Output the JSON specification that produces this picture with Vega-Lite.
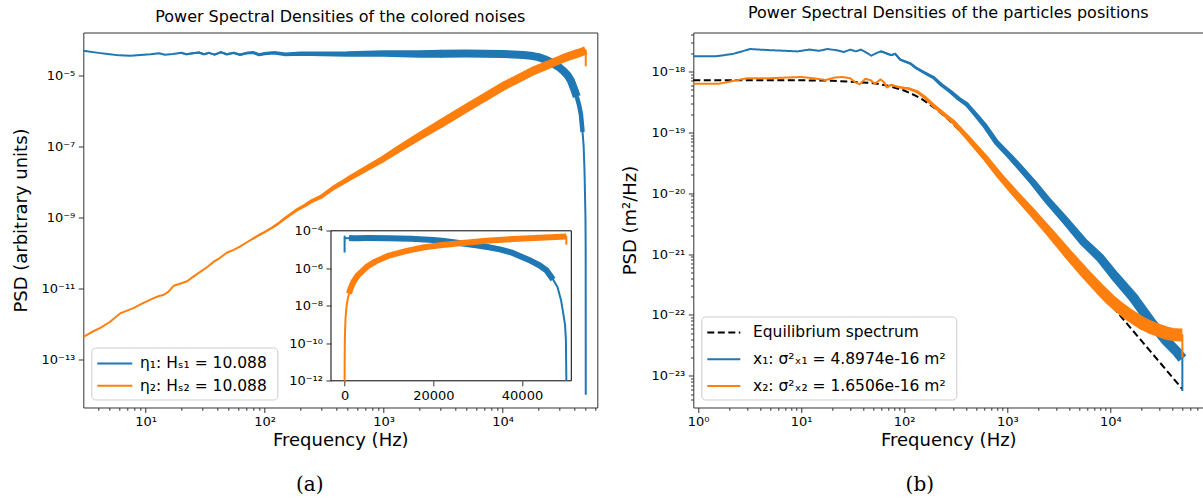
{
  "$schema": "https://vega.github.io/schema/vega-lite/v6.json",
  "background": "white",
  "padding": {"left": 12.3, "top": 4.5, "right": 0, "bottom": 2},
  "bounds": "flush",
  "spacing": 96,
  "resolve": {"scale": {"color": "independent", "strokeDash": "independent", "size": "independent"}, "legend": {"color": "independent", "strokeDash": "independent", "size": "independent"}},
  "datasets": {
    "L": [
      {"s":"n1","f":0,"y":6.92e-6},{"s":"n1","f":3,"y":4.9e-5},{"s":"n1","f":4,"y":4.27e-5},{"s":"n1","f":5,"y":3.89e-5},{"s":"n1","f":6,"y":3.63e-5},{"s":"n1","f":7.5,"y":3.55e-5},{"s":"n1","f":9,"y":3.72e-5},{"s":"n1","f":11,"y":3.89e-5},{"s":"n1","f":13,"y":4.17e-5},{"s":"n1","f":14.5,"y":3.8e-5},{"s":"n1","f":17,"y":3.98e-5},{"s":"n1","f":20,"y":4.27e-5},{"s":"n1","f":22,"y":3.89e-5},{"s":"n1","f":25,"y":4.17e-5},{"s":"n1","f":28,"y":4.37e-5},{"s":"n1","f":31,"y":3.89e-5},{"s":"n1","f":34,"y":4.27e-5},{"s":"n1","f":38,"y":3.8e-5},{"s":"n1","f":43,"y":4.47e-5},{"s":"n1","f":48,"y":3.89e-5},{"s":"n1","f":55,"y":4.27e-5},{"s":"n1","f":62,"y":3.8e-5},{"s":"n1","f":70,"y":4.17e-5},{"s":"n1","f":80,"y":4.37e-5},{"s":"n1","f":90,"y":3.8e-5},{"s":"n1","f":100,"y":4.07e-5},{"s":"n1","f":120,"y":4.27e-5},{"s":"n1","f":150,"y":3.89e-5},{"s":"n1","f":200,"y":4.07e-5},{"s":"n1","f":300,"y":3.98e-5},{"s":"n1","f":500,"y":3.98e-5},{"s":"n1","f":1000,"y":4.07e-5},{"s":"n1","f":2000,"y":3.98e-5},{"s":"n1","f":3000,"y":4.02e-5},{"s":"n1","f":5000,"y":4.07e-5},{"s":"n1","f":10000,"y":3.98e-5},{"s":"n1","f":15000,"y":3.72e-5},{"s":"n1","f":18000,"y":3.47e-5},{"s":"n1","f":20000,"y":3.24e-5},{"s":"n1","f":22500,"y":2.82e-5},{"s":"n1","f":25000,"y":2.4e-5},{"s":"n1","f":27500,"y":2.0e-5},{"s":"n1","f":30000,"y":1.66e-5},{"s":"n1","f":32500,"y":1.32e-5},{"s":"n1","f":35000,"y":1.02e-5},{"s":"n1","f":37500,"y":7.08e-6},{"s":"n1","f":40000,"y":3.98e-6},{"s":"n1","f":42000,"y":2.51e-6},{"s":"n1","f":44000,"y":1.41e-6},{"s":"n1","f":45500,"y":7.94e-7},{"s":"n1","f":47000,"y":2.51e-7},{"s":"n1","f":48000,"y":1.0e-7},{"s":"n1","f":48800,"y":2.0e-8},{"s":"n1","f":49300,"y":3.98e-9},{"s":"n1","f":49700,"y":1.0e-9},{"s":"n1","f":49900,"y":1.58e-10},{"s":"n1","f":50000,"y":1.0e-14},
      {"s":"n2","f":0,"y":1e-12},{"s":"n2","f":3,"y":4.27e-13},{"s":"n2","f":3.5,"y":5.75e-13},{"s":"n2","f":4.2,"y":7.76e-13},{"s":"n2","f":5,"y":1.12e-12},{"s":"n2","f":6.1,"y":1.95e-12},{"s":"n2","f":7,"y":2.34e-12},{"s":"n2","f":7.9,"y":2.75e-12},{"s":"n2","f":9.5,"y":3.8e-12},{"s":"n2","f":11.7,"y":5.25e-12},{"s":"n2","f":13,"y":6.03e-12},{"s":"n2","f":14.1,"y":6.46e-12},{"s":"n2","f":15.5,"y":7.94e-12},{"s":"n2","f":17.2,"y":1.17e-11},{"s":"n2","f":20,"y":1.38e-11},{"s":"n2","f":22.3,"y":1.58e-11},{"s":"n2","f":25,"y":2.09e-11},{"s":"n2","f":28.8,"y":2.88e-11},{"s":"n2","f":33,"y":3.98e-11},{"s":"n2","f":37.5,"y":5.62e-11},{"s":"n2","f":42,"y":7.08e-11},{"s":"n2","f":48,"y":1.0e-10},{"s":"n2","f":55,"y":1.2e-10},{"s":"n2","f":62,"y":1.48e-10},{"s":"n2","f":70,"y":1.91e-10},{"s":"n2","f":80,"y":2.51e-10},{"s":"n2","f":90,"y":3.16e-10},{"s":"n2","f":100,"y":3.8e-10},{"s":"n2","f":115,"y":5.01e-10},{"s":"n2","f":130,"y":6.61e-10},{"s":"n2","f":150,"y":9.55e-10},{"s":"n2","f":185,"y":1.58e-9},{"s":"n2","f":220,"y":2.19e-9},{"s":"n2","f":250,"y":2.88e-9},{"s":"n2","f":300,"y":3.8e-9},{"s":"n2","f":380,"y":6.76e-9},{"s":"n2","f":500,"y":1.17e-8},{"s":"n2","f":700,"y":2.24e-8},{"s":"n2","f":1000,"y":4.47e-8},{"s":"n2","f":1350,"y":8.51e-8},{"s":"n2","f":2000,"y":1.91e-7},{"s":"n2","f":3000,"y":4.27e-7},{"s":"n2","f":5000,"y":1.2e-6},{"s":"n2","f":7000,"y":2.34e-6},{"s":"n2","f":10000,"y":4.79e-6},{"s":"n2","f":14000,"y":8.51e-6},{"s":"n2","f":18000,"y":1.32e-5},{"s":"n2","f":22000,"y":1.74e-5},{"s":"n2","f":26000,"y":2.19e-5},{"s":"n2","f":32000,"y":2.95e-5},{"s":"n2","f":38000,"y":3.63e-5},{"s":"n2","f":44000,"y":4.27e-5},{"s":"n2","f":49990,"y":5.01e-5},{"s":"n2","f":50000,"y":1.78e-5}
    ],
    "R": [
      {"s":"eq","f":0.9,"y":7.2e-19},{"s":"eq","f":10,"y":7.17e-19},{"s":"eq","f":20,"y":7.07e-19},{"s":"eq","f":50,"y":6.44e-19},{"s":"eq","f":70,"y":5.84e-19},{"s":"eq","f":100,"y":4.88e-19},{"s":"eq","f":130,"y":3.99e-19},{"s":"eq","f":150,"y":3.48e-19},{"s":"eq","f":200,"y":2.48e-19},{"s":"eq","f":250,"y":1.81e-19},{"s":"eq","f":300,"y":1.36e-19},{"s":"eq","f":400,"y":8.36e-20},{"s":"eq","f":500,"y":5.59e-20},{"s":"eq","f":700,"y":2.96e-20},{"s":"eq","f":1000,"y":1.48e-20},{"s":"eq","f":2000,"y":3.77e-21},{"s":"eq","f":5000,"y":6.05e-22},{"s":"eq","f":10000,"y":1.51e-22},{"s":"eq","f":20000,"y":3.78e-23},{"s":"eq","f":50000,"y":6.06e-24},
      {"s":"x1","f":0.9,"y":1.78e-18},{"s":"x1","f":1.5,"y":1.78e-18},{"s":"x1","f":2.2,"y":1.95e-18},{"s":"x1","f":3.2,"y":2.34e-18},{"s":"x1","f":5,"y":2.24e-18},{"s":"x1","f":7,"y":2.19e-18},{"s":"x1","f":9.2,"y":2.14e-18},{"s":"x1","f":12,"y":2.29e-18},{"s":"x1","f":15,"y":2.19e-18},{"s":"x1","f":18,"y":2.34e-18},{"s":"x1","f":22,"y":2.24e-18},{"s":"x1","f":26,"y":2.09e-18},{"s":"x1","f":30,"y":2.29e-18},{"s":"x1","f":34,"y":2.14e-18},{"s":"x1","f":38,"y":2.29e-18},{"s":"x1","f":43,"y":2.04e-18},{"s":"x1","f":48,"y":1.82e-18},{"s":"x1","f":55,"y":2.04e-18},{"s":"x1","f":60,"y":2.14e-18},{"s":"x1","f":69,"y":1.95e-18},{"s":"x1","f":75,"y":1.86e-18},{"s":"x1","f":82,"y":1.95e-18},{"s":"x1","f":91,"y":1.58e-18},{"s":"x1","f":100,"y":1.48e-18},{"s":"x1","f":115,"y":1.35e-18},{"s":"x1","f":130,"y":1.15e-18},{"s":"x1","f":150,"y":1.0e-18},{"s":"x1","f":170,"y":8.91e-19},{"s":"x1","f":193,"y":7.94e-19},{"s":"x1","f":230,"y":6.03e-19},{"s":"x1","f":280,"y":4.68e-19},{"s":"x1","f":340,"y":3.55e-19},{"s":"x1","f":405,"y":2.88e-19},{"s":"x1","f":500,"y":1.91e-19},{"s":"x1","f":600,"y":1.32e-19},{"s":"x1","f":790,"y":6.76e-20},{"s":"x1","f":1070,"y":3.98e-20},{"s":"x1","f":1400,"y":2.4e-20},{"s":"x1","f":1780,"y":1.51e-20},{"s":"x1","f":2500,"y":7.41e-21},{"s":"x1","f":3800,"y":3.31e-21},{"s":"x1","f":5500,"y":1.58e-21},{"s":"x1","f":7950,"y":8.71e-22},{"s":"x1","f":11000,"y":4.37e-22},{"s":"x1","f":16800,"y":1.91e-22},{"s":"x1","f":24400,"y":7.94e-23},{"s":"x1","f":35000,"y":3.72e-23},{"s":"x1","f":45000,"y":2.4e-23},{"s":"x1","f":49990,"y":1.91e-23},{"s":"x1","f":50000,"y":5.62e-24},
      {"s":"x2","f":0.9,"y":6.31e-19},{"s":"x2","f":1.6,"y":6.31e-19},{"s":"x2","f":3,"y":7.76e-19},{"s":"x2","f":5,"y":7.76e-19},{"s":"x2","f":7,"y":7.94e-19},{"s":"x2","f":10,"y":8.13e-19},{"s":"x2","f":13,"y":7.76e-19},{"s":"x2","f":17.3,"y":7.24e-19},{"s":"x2","f":21,"y":7.94e-19},{"s":"x2","f":25,"y":8.13e-19},{"s":"x2","f":30,"y":7.76e-19},{"s":"x2","f":33,"y":6.76e-19},{"s":"x2","f":37,"y":6.17e-19},{"s":"x2","f":42,"y":7.59e-19},{"s":"x2","f":47,"y":7.24e-19},{"s":"x2","f":52,"y":6.31e-19},{"s":"x2","f":59,"y":7.41e-19},{"s":"x2","f":64,"y":6.61e-19},{"s":"x2","f":68,"y":5.5e-19},{"s":"x2","f":75,"y":6.03e-19},{"s":"x2","f":82,"y":5.75e-19},{"s":"x2","f":91,"y":5.5e-19},{"s":"x2","f":110,"y":5.25e-19},{"s":"x2","f":133,"y":4.68e-19},{"s":"x2","f":160,"y":3.72e-19},{"s":"x2","f":193,"y":2.75e-19},{"s":"x2","f":250,"y":1.91e-19},{"s":"x2","f":300,"y":1.48e-19},{"s":"x2","f":405,"y":8.51e-20},{"s":"x2","f":600,"y":3.98e-20},{"s":"x2","f":850,"y":1.91e-20},{"s":"x2","f":1200,"y":9.77e-21},{"s":"x2","f":1780,"y":4.68e-21},{"s":"x2","f":2600,"y":2.24e-21},{"s":"x2","f":3800,"y":1.05e-21},{"s":"x2","f":5500,"y":5.13e-22},{"s":"x2","f":7950,"y":2.63e-22},{"s":"x2","f":10000,"y":1.78e-22},{"s":"x2","f":12500,"y":1.29e-22},{"s":"x2","f":15000,"y":1.02e-22},{"s":"x2","f":18000,"y":8.32e-23},{"s":"x2","f":21000,"y":7.08e-23},{"s":"x2","f":24400,"y":6.31e-23},{"s":"x2","f":30000,"y":5.5e-23},{"s":"x2","f":35000,"y":5.01e-23},{"s":"x2","f":40000,"y":4.79e-23},{"s":"x2","f":47800,"y":4.68e-23},{"s":"x2","f":49990,"y":4.68e-23},{"s":"x2","f":50000,"y":2.0e-23}
    ],
    "Box": [{"x0": -3066, "x1": 51116, "y0": 1e-12, "y1": 1e-4}]
  },
  "hconcat": [
    {
      "width": 514,
      "height": 375,
      "title": {"text": "Power Spectral Densities of the colored noises"},
      "resolve": {"scale": {"x": "independent", "y": "independent"}, "axis": {"x": "independent", "y": "independent"}},
      "layer": [
        {
          "data": {"name": "L"},
          "transform": [{"filter": "datum.f > 0"}],
          "resolve": {"scale": {"size": "independent"}, "legend": {"size": "independent"}},
          "encoding": {
            "x": {"field": "f", "type": "quantitative",
              "scale": {"type": "log", "domain": [2.996, 62500], "nice": false},
              "axis": {"orient": "bottom", "title": "Frequency (Hz)", "titleY": 38, "titleBaseline": "alphabetic",
                "values": [4,5,6,7,8,9,10,20,30,40,50,60,70,80,90,100,200,300,400,500,600,700,800,900,1000,2000,3000,4000,5000,6000,7000,8000,9000,10000,20000,30000,40000,50000,60000],
                "tickSize": {"expr": "abs(log(datum.value)/LN10 - round(log(datum.value)/LN10)) < 0.001 ? 5 : 2.8"},
                "labelExpr": "abs(log(datum.value)/LN10 - round(log(datum.value)/LN10)) < 0.001 ? '10' + replace(replace(replace(replace(replace(replace(replace(replace(replace(replace(replace('' + round(log(datum.value)/LN10), '-', '⁻'), regexp('0','g'), '⁰'), regexp('1','g'), '¹'), regexp('2','g'), '²'), regexp('3','g'), '³'), regexp('4','g'), '⁴'), regexp('5','g'), '⁵'), regexp('6','g'), '⁶'), regexp('7','g'), '⁷'), regexp('8','g'), '⁸'), regexp('9','g'), '⁹') : ''"}},
            "y": {"field": "y", "type": "quantitative",
              "scale": {"type": "log", "domain": [4.37e-15, 1.6e-4], "nice": false},
              "axis": {"orient": "left", "title": "PSD (arbitrary units)", "titleX": -56.3, "titleBaseline": "alphabetic",
                "values": [1e-5, 1e-7, 1e-9, 1e-11, 1e-13], "tickSize": 5,
                "labelExpr": "'10' + replace(replace(replace(replace(replace(replace(replace(replace(replace(replace(replace('' + round(log(datum.value)/LN10), '-', '⁻'), regexp('0','g'), '⁰'), regexp('1','g'), '¹'), regexp('2','g'), '²'), regexp('3','g'), '³'), regexp('4','g'), '⁴'), regexp('5','g'), '⁵'), regexp('6','g'), '⁶'), regexp('7','g'), '⁷'), regexp('8','g'), '⁸'), regexp('9','g'), '⁹')"}}
          },
          "layer": [
            {"transform": [{"filter": "datum.s == 'n1'"}], "mark": {"type": "line", "strokeWidth": 2, "strokeJoin": "round"},
              "encoding": {"color": {"field": "s", "type": "nominal", "scale": {"domain": ["n1", "n2"], "range": ["#1f77b4", "#ff7f0e"]},
                "legend": {"title": null, "symbolType": "M-1,0H2.5", "labelOffset": 21.7, "rowPadding": 2.3,
                  "labelExpr": "datum.label == 'n1' ? 'η₁: Hₛ₁ =  10.088' : 'η₂: Hₛ₂ =  10.088'"}}}},
            {"transform": [{"filter": "datum.s == 'n1' && datum.f >= 20 && datum.f <= 3000"}], "mark": {"type": "trail", "color": "#1f77b4"},
              "encoding": {"size": {"field": "f", "type": "quantitative", "scale": {"type": "log", "domain": [40, 3000], "range": [2, 8], "clamp": true}, "legend": null}}},
            {"transform": [{"filter": "datum.s == 'n1' && datum.f >= 3000 && datum.f <= 42000"}], "mark": {"type": "line", "strokeWidth": 8, "color": "#1f77b4", "strokeJoin": "round", "strokeCap": "butt"}, "encoding": {}},
            {"transform": [{"filter": "datum.s == 'n1' && datum.f >= 42000 && datum.f <= 47000"}], "mark": {"type": "line", "strokeWidth": 4.5, "color": "#1f77b4", "strokeJoin": "round", "strokeCap": "butt"}, "encoding": {}},
            {"transform": [{"filter": "datum.s == 'n2'"}], "mark": {"type": "line", "strokeWidth": 2, "strokeJoin": "round"},
              "encoding": {"color": {"field": "s", "type": "nominal", "scale": {"domain": ["n1", "n2"], "range": ["#1f77b4", "#ff7f0e"]},
                "legend": {"title": null, "symbolType": "M-1,0H2.5", "labelOffset": 21.7, "rowPadding": 2.3,
                  "labelExpr": "datum.label == 'n1' ? 'η₁: Hₛ₁ =  10.088' : 'η₂: Hₛ₂ =  10.088'"}}}},
            {"transform": [{"filter": "datum.s == 'n2' && datum.f >= 80 && datum.f <= 3000"}], "mark": {"type": "trail", "color": "#ff7f0e"},
              "encoding": {"size": {"field": "f", "type": "quantitative", "scale": {"type": "log", "domain": [100, 3000], "range": [2, 8.5], "clamp": true}, "legend": null}}},
            {"transform": [{"filter": "datum.s == 'n2' && datum.f >= 3000 && datum.f < 49995"}], "mark": {"type": "line", "strokeWidth": 8.5, "color": "#ff7f0e", "strokeJoin": "round", "strokeCap": "butt"}, "encoding": {}}
          ]
        },
        {
          "data": {"name": "L"},
          "encoding": {
            "x": {"field": "f", "type": "quantitative",
              "scale": {"domain": [-3066, 51116], "range": [247.7, 488], "nice": false, "zero": false},
              "axis": {"orient": "bottom", "offset": -26.7, "values": [0, 20000, 40000], "format": "d", "tickSize": 5, "zindex": 1,
                "title": "(a)", "titleFont": "DejaVu Serif", "titleFontSize": 20, "titleX": 226, "titleY": 104, "titleBaseline": "middle", "titleAlign": "center"}},
            "y": {"field": "y", "type": "quantitative",
              "scale": {"type": "log", "domain": [1e-12, 1e-4], "range": [348.3, 198.3], "clamp": true, "nice": false},
              "axis": {"orient": "left", "offset": -247.7, "values": [1e-4, 1e-6, 1e-8, 1e-10, 1e-12], "tickSize": 5, "zindex": 1, "title": null,
                "labelExpr": "'10' + replace(replace(replace(replace(replace(replace(replace(replace(replace(replace(replace('' + round(log(datum.value)/LN10), '-', '⁻'), regexp('0','g'), '⁰'), regexp('1','g'), '¹'), regexp('2','g'), '²'), regexp('3','g'), '³'), regexp('4','g'), '⁴'), regexp('5','g'), '⁵'), regexp('6','g'), '⁶'), regexp('7','g'), '⁷'), regexp('8','g'), '⁸'), regexp('9','g'), '⁹')"}}
          },
          "layer": [
            {"data": {"name": "Box"}, "mark": {"type": "rect", "fill": "white", "stroke": "black", "strokeWidth": 1},
              "encoding": {"x": {"field": "x0", "type": "quantitative"}, "x2": {"field": "x1"}, "y": {"field": "y0", "type": "quantitative"}, "y2": {"field": "y1"}}},
            {"transform": [{"filter": "datum.s == 'n1'"}], "mark": {"type": "line", "strokeWidth": 2, "color": "#1f77b4", "strokeJoin": "round"}, "encoding": {}},
            {"transform": [{"filter": "datum.s == 'n1' && datum.f >= 1000 && datum.f <= 47000"}], "mark": {"type": "line", "strokeWidth": 6, "color": "#1f77b4", "strokeJoin": "round", "strokeCap": "butt"}, "encoding": {}},
            {"transform": [{"filter": "datum.s == 'n2'"}], "mark": {"type": "line", "strokeWidth": 2, "color": "#ff7f0e", "strokeJoin": "round"}, "encoding": {}},
            {"transform": [{"filter": "datum.s == 'n2' && datum.f >= 1000 && datum.f < 49995"}], "mark": {"type": "line", "strokeWidth": 6, "color": "#ff7f0e", "strokeJoin": "round", "strokeCap": "butt"}, "encoding": {}}
          ]
        }
      ]
    },
    {
      "width": 510,
      "height": 375,
      "title": {"text": "Power Spectral Densities of the particles positions"},
      "resolve": {"scale": {"x": "independent"}, "axis": {"x": "independent"}},
      "layer": [
        {
          "data": {"name": "R"},
          "resolve": {"scale": {"size": "independent"}, "legend": {"size": "independent"}},
          "encoding": {
            "x": {"field": "f", "type": "quantitative",
              "scale": {"type": "log", "domain": [0.9, 79800], "nice": false},
              "axis": {"orient": "bottom", "title": "Frequency (Hz)", "titleY": 38, "titleBaseline": "alphabetic",
                "values": [1,2,3,4,5,6,7,8,9,10,20,30,40,50,60,70,80,90,100,200,300,400,500,600,700,800,900,1000,2000,3000,4000,5000,6000,7000,8000,9000,10000,20000,30000,40000,50000,60000,70000],
                "tickSize": {"expr": "abs(log(datum.value)/LN10 - round(log(datum.value)/LN10)) < 0.001 ? 5 : 2.8"},
                "labelExpr": "abs(log(datum.value)/LN10 - round(log(datum.value)/LN10)) < 0.001 ? '10' + replace(replace(replace(replace(replace(replace(replace(replace(replace(replace(replace('' + round(log(datum.value)/LN10), '-', '⁻'), regexp('0','g'), '⁰'), regexp('1','g'), '¹'), regexp('2','g'), '²'), regexp('3','g'), '³'), regexp('4','g'), '⁴'), regexp('5','g'), '⁵'), regexp('6','g'), '⁶'), regexp('7','g'), '⁷'), regexp('8','g'), '⁸'), regexp('9','g'), '⁹') : ''"}},
            "y": {"field": "y", "type": "quantitative",
              "scale": {"type": "log", "domain": [3.01e-24, 4.375e-18], "nice": false},
              "axis": {"orient": "left", "title": "PSD (m²/Hz)", "titleX": -58, "titleBaseline": "alphabetic",
                "values": [4e-24,5e-24,6e-24,7e-24,8e-24,9e-24,1e-23,2e-23,3e-23,4e-23,5e-23,6e-23,7e-23,8e-23,9e-23,1e-22,2e-22,3e-22,4e-22,5e-22,6e-22,7e-22,8e-22,9e-22,1e-21,2e-21,3e-21,4e-21,5e-21,6e-21,7e-21,8e-21,9e-21,1e-20,2e-20,3e-20,4e-20,5e-20,6e-20,7e-20,8e-20,9e-20,1e-19,2e-19,3e-19,4e-19,5e-19,6e-19,7e-19,8e-19,9e-19,1e-18,2e-18,3e-18,4e-18],
                "tickSize": {"expr": "abs(log(datum.value)/LN10 - round(log(datum.value)/LN10)) < 0.001 ? 5 : 2.8"},
                "labelExpr": "abs(log(datum.value)/LN10 - round(log(datum.value)/LN10)) < 0.001 ? '10' + replace(replace(replace(replace(replace(replace(replace(replace(replace(replace(replace('' + round(log(datum.value)/LN10), '-', '⁻'), regexp('0','g'), '⁰'), regexp('1','g'), '¹'), regexp('2','g'), '²'), regexp('3','g'), '³'), regexp('4','g'), '⁴'), regexp('5','g'), '⁵'), regexp('6','g'), '⁶'), regexp('7','g'), '⁷'), regexp('8','g'), '⁸'), regexp('9','g'), '⁹') : ''"}}
          },
          "layer": [
            {"transform": [{"filter": "datum.s == 'eq'"}], "mark": {"type": "line", "strokeWidth": 2, "strokeJoin": "round"},
              "encoding": {
                "color": {"field": "s", "type": "nominal", "scale": {"domain": ["eq", "x1", "x2"], "range": ["black", "#1f77b4", "#ff7f0e"]},
                  "legend": {"title": null, "symbolType": "M-1,0H2.3", "labelOffset": 24.7, "rowPadding": 6.7,
                    "labelExpr": "datum.label == 'eq' ? 'Equilibrium spectrum' : datum.label == 'x1' ? 'x₁: σ²ₓ₁ =  4.8974e-16 m²' : 'x₂: σ²ₓ₂ =  1.6506e-16 m²'"}},
                "strokeDash": {"field": "s", "type": "nominal", "scale": {"domain": ["eq", "x1", "x2"], "range": [[7, 3.5], [1, 0], [1, 0]]},
                  "legend": {"title": null, "symbolType": "M-1,0H2.3", "labelOffset": 24.7, "rowPadding": 6.7,
                    "labelExpr": "datum.label == 'eq' ? 'Equilibrium spectrum' : datum.label == 'x1' ? 'x₁: σ²ₓ₁ =  4.8974e-16 m²' : 'x₂: σ²ₓ₂ =  1.6506e-16 m²'"}}}},
            {"transform": [{"filter": "datum.s == 'x1'"}], "mark": {"type": "line", "strokeWidth": 2, "strokeJoin": "round"},
              "encoding": {
                "color": {"field": "s", "type": "nominal", "scale": {"domain": ["eq", "x1", "x2"], "range": ["black", "#1f77b4", "#ff7f0e"]},
                  "legend": {"title": null, "symbolType": "M-1,0H2.3", "labelOffset": 24.7, "rowPadding": 6.7,
                    "labelExpr": "datum.label == 'eq' ? 'Equilibrium spectrum' : datum.label == 'x1' ? 'x₁: σ²ₓ₁ =  4.8974e-16 m²' : 'x₂: σ²ₓ₂ =  1.6506e-16 m²'"}},
                "strokeDash": {"field": "s", "type": "nominal", "scale": {"domain": ["eq", "x1", "x2"], "range": [[7, 3.5], [1, 0], [1, 0]]},
                  "legend": {"title": null, "symbolType": "M-1,0H2.3", "labelOffset": 24.7, "rowPadding": 6.7,
                    "labelExpr": "datum.label == 'eq' ? 'Equilibrium spectrum' : datum.label == 'x1' ? 'x₁: σ²ₓ₁ =  4.8974e-16 m²' : 'x₂: σ²ₓ₂ =  1.6506e-16 m²'"}}}},
            {"transform": [{"filter": "datum.s == 'x1' && datum.f >= 60 && datum.f <= 16800"}], "mark": {"type": "trail", "color": "#1f77b4"},
              "encoding": {"size": {"field": "f", "type": "quantitative", "scale": {"type": "log", "domain": [80, 16800], "range": [2, 10], "clamp": true}, "legend": null}}},
            {"transform": [{"filter": "datum.s == 'x1' && datum.f >= 16800 && datum.f < 49995"}], "mark": {"type": "line", "strokeWidth": 10, "color": "#1f77b4", "strokeJoin": "round", "strokeCap": "butt"}, "encoding": {}},
            {"transform": [{"filter": "datum.s == 'x2'"}], "mark": {"type": "line", "strokeWidth": 2, "strokeJoin": "round"},
              "encoding": {
                "color": {"field": "s", "type": "nominal", "scale": {"domain": ["eq", "x1", "x2"], "range": ["black", "#1f77b4", "#ff7f0e"]},
                  "legend": {"title": null, "symbolType": "M-1,0H2.3", "labelOffset": 24.7, "rowPadding": 6.7,
                    "labelExpr": "datum.label == 'eq' ? 'Equilibrium spectrum' : datum.label == 'x1' ? 'x₁: σ²ₓ₁ =  4.8974e-16 m²' : 'x₂: σ²ₓ₂ =  1.6506e-16 m²'"}},
                "strokeDash": {"field": "s", "type": "nominal", "scale": {"domain": ["eq", "x1", "x2"], "range": [[7, 3.5], [1, 0], [1, 0]]},
                  "legend": {"title": null, "symbolType": "M-1,0H2.3", "labelOffset": 24.7, "rowPadding": 6.7,
                    "labelExpr": "datum.label == 'eq' ? 'Equilibrium spectrum' : datum.label == 'x1' ? 'x₁: σ²ₓ₁ =  4.8974e-16 m²' : 'x₂: σ²ₓ₂ =  1.6506e-16 m²'"}}}},
            {"transform": [{"filter": "datum.s == 'x2' && datum.f >= 60 && datum.f <= 24400"}], "mark": {"type": "trail", "color": "#ff7f0e"},
              "encoding": {"size": {"field": "f", "type": "quantitative", "scale": {"type": "log", "domain": [80, 24400], "range": [2, 13], "clamp": true}, "legend": null}}},
            {"transform": [{"filter": "datum.s == 'x2' && datum.f >= 24400 && datum.f < 49995"}], "mark": {"type": "line", "strokeWidth": 13, "color": "#ff7f0e", "strokeJoin": "round", "strokeCap": "butt"}, "encoding": {}}
          ]
        },
        {
          "data": {"values": [{"u": 0}]},
          "mark": {"type": "rule", "opacity": 0},
          "encoding": {
            "x": {"field": "u", "type": "quantitative",
              "axis": {"orient": "bottom", "domain": false, "ticks": false, "labels": false, "grid": false,
                "title": "(b)", "titleFont": "DejaVu Serif", "titleFontSize": 20, "titleX": 226, "titleY": 77.5, "titleBaseline": "middle", "titleAlign": "center"}}
          }
        }
      ]
    }
  ],
  "config": {
    "view": {"stroke": "#333333", "strokeWidth": 1, "fill": "white"},
    "font": "DejaVu Sans",
    "axis": {"domain": false, "grid": false, "ticks": true, "tickColor": "#333333", "tickWidth": 1,
      "labelFont": "DejaVu Sans", "labelFontSize": 13, "labelColor": "black", "labelPadding": 3.5,
      "labelFlush": false, "labelOverlap": false,
      "titleFont": "DejaVu Sans", "titleFontSize": 18, "titleFontWeight": "normal", "titleColor": "black"},
    "legend": {"labelFont": "DejaVu Sans", "labelFontSize": 15.5, "labelColor": "black", "padding": 5,
      "fillColor": "rgba(255,255,255,0.8)", "strokeColor": "#cccccc", "cornerRadius": 4,
      "orient": "bottom-left", "offset": 8, "symbolSize": 400, "symbolStrokeWidth": 2, "labelLimit": 400},
    "title": {"font": "DejaVu Sans", "fontSize": 16, "fontWeight": "normal", "color": "black", "anchor": "middle",
      "frame": "group", "baseline": "alphabetic", "offset": 7.7}
  }
}
